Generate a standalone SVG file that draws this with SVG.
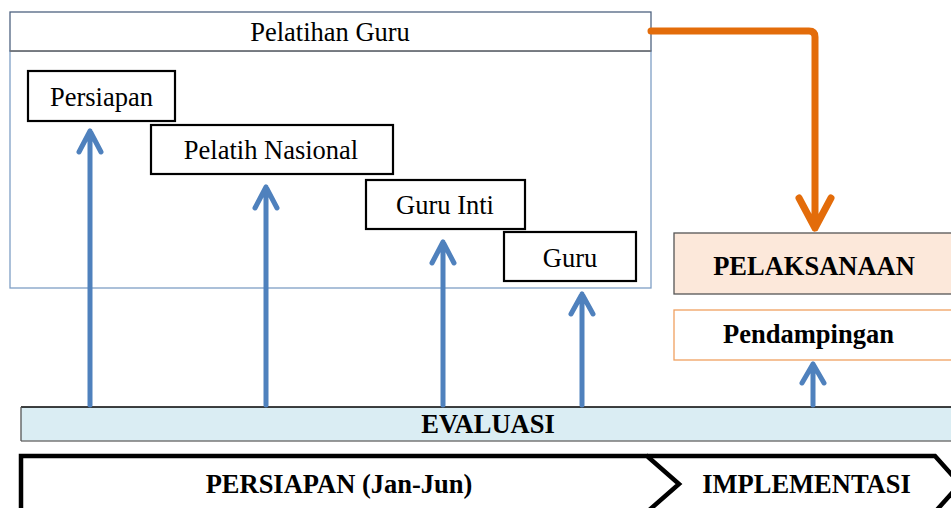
<svg xmlns="http://www.w3.org/2000/svg" width="951" height="508" viewBox="0 0 951 508">
<style>
.t{font-family:"Liberation Serif","Times New Roman",serif;fill:#000;text-anchor:middle}
.r{font-size:26.5px}
.b{font-size:26.5px;font-weight:bold}
.node{fill:#fff;stroke:#000;stroke-width:2.2}
.blue{fill:none;stroke:#4f81bd;stroke-width:5;stroke-linecap:round;stroke-linejoin:round}
</style>
<rect width="951" height="508" fill="#fff"/>
<g id="pelatihan-guru">
<rect x="10" y="51" width="641" height="237" fill="#fff" stroke="#7f9fc5" stroke-width="1.3"/>
<rect x="10" y="12" width="641" height="39" fill="#fff" stroke="#4f6380" stroke-width="1.3"/>
<line x1="10" y1="51" x2="651" y2="51" stroke="#777" stroke-width="1.5"/>
<text class="t r" x="330" y="41">Pelatihan Guru</text>
</g>
<g id="persiapan">
<rect class="node" x="28" y="71" width="147" height="50"/>
<text class="t r" x="101.5" y="106">Persiapan</text>
</g>
<g id="pelatih-nasional">
<rect class="node" x="151" y="125" width="242" height="49"/>
<text class="t r" x="271" y="159">Pelatih Nasional</text>
</g>
<g id="guru-inti">
<rect class="node" x="366" y="180" width="159" height="49"/>
<text class="t r" x="445" y="214">Guru Inti</text>
</g>
<g id="guru">
<rect class="node" x="504" y="232" width="132" height="49"/>
<text class="t r" x="570" y="267">Guru</text>
</g>
<g id="pelaksanaan">
<rect x="674" y="233" width="290" height="61" fill="#fce8da" stroke="#555" stroke-width="1.3"/>
<text class="t b" x="814" y="275">PELAKSANAAN</text>
</g>
<g id="pendampingan">
<rect x="674" y="310" width="290" height="50" fill="#fff" stroke="#f0a060" stroke-width="1.3"/>
<text class="t b" x="808.5" y="343">Pendampingan</text>
</g>
<g id="evaluasi">
<rect x="21" y="407" width="945" height="34" fill="#daedf3"/>
<line x1="21" y1="407" x2="951" y2="407" stroke="#000" stroke-width="1.3"/>
<line x1="21" y1="441" x2="951" y2="441" stroke="#777" stroke-width="1.5"/>
<line x1="21" y1="407" x2="21" y2="441" stroke="#555" stroke-width="1.3"/>
<text class="t b" x="488" y="433">EVALUASI</text>
</g>
<g id="timeline">
<path d="M21 512 L21 456 L647 456 L679 484 L647 512" fill="none" stroke="#000" stroke-width="4.5" stroke-linejoin="miter"/>
<path d="M647 456 L935 456 L960 484" fill="none" stroke="#000" stroke-width="4.5"/>
<path d="M960 484 L935 512" fill="none" stroke="#000" stroke-width="4.5"/>
<text class="t b" x="339" y="493">PERSIAPAN (Jan-Jun)</text>
<text class="t b" x="806.5" y="493">IMPLEMENTASI</text>
</g>
<g id="connectors">
<path class="blue" d="M90 405 V131 M79 152 L90 131 L101 152"/>
<path class="blue" d="M266 405 V187 M255 208 L266 187 L277 208"/>
<path class="blue" d="M443 405 V242 M432 263 L443 242 L454 263"/>
<path class="blue" d="M582 405 V294 M571 314 L582 294 L593 314"/>
<path class="blue" d="M813 405 V364 M802 383 L813 364 L824 383"/>
<path d="M651 31 H809 Q815 31 815 37 V228 M799 198 L815 228 L831 198" fill="none" stroke="#e36c0a" stroke-width="7" stroke-linecap="round" stroke-linejoin="round"/>
</g>
</svg>
